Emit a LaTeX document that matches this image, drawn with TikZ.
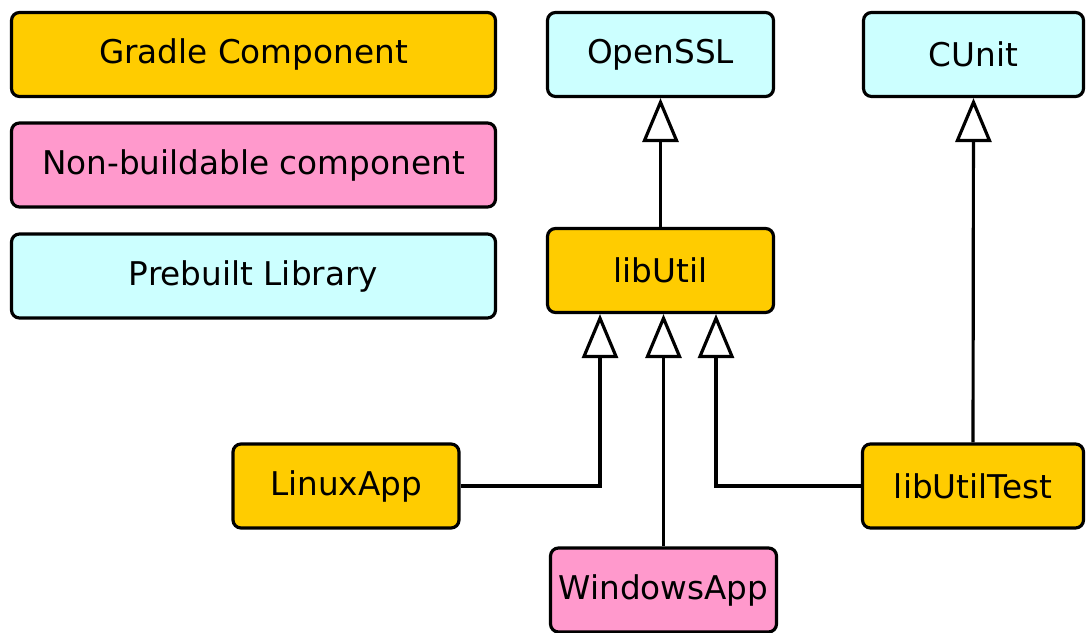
\documentclass[tikz,border=0pt]{standalone}
\usepackage{fontspec}
\setmainfont{DejaVu Sans}
\usepackage{tikz}
\usetikzlibrary{arrows.meta}

\definecolor{gradleorange}{HTML}{FFCC00}
\definecolor{nobuildpink}{HTML}{FF99CC}
\definecolor{prebuiltcyan}{HTML}{CCFFFF}

\tikzset{
  comp/.style={draw, line width=0.9pt, rounded corners=0.08cm, inner sep=0pt,
    minimum width=2.26cm, minimum height=0.84cm, font=\fontsize{9.3}{11}\selectfont},
  gradle/.style={comp, fill=gradleorange},
  nobuild/.style={comp, fill=nobuildpink},
  prebuilt/.style={comp, fill=prebuiltcyan},
  legend/.style={minimum width=4.84cm},
  inherit/.style={line width=0.9pt, -{Triangle[open, width=0.36cm, length=0.44cm]}}
}

\begin{document}
\begin{tikzpicture}[y=-1cm]
\useasboundingbox (0,0) rectangle (10.86,6.33);

% legend
\node[gradle, legend] (legGradle) at (2.535,0.545) {Gradle Component};
\node[nobuild, legend] (legNobuild) at (2.535,1.65) {Non-buildable component};
\node[prebuilt, legend] (legPrebuilt) at (2.535,2.76) {Prebuilt Library};

% components
\node[prebuilt] (openssl) at (6.605,0.545) {OpenSSL};
\node[prebuilt, minimum width=2.2cm] (cunit) at (9.735,0.545) {CUnit};
\node[gradle] (libutil) at (6.605,2.705) {libUtil};
\node[gradle] (linuxapp) at (3.46,4.86) {LinuxApp};
\node[gradle, minimum width=2.21cm] (libutiltest) at (9.73,4.86) {libUtilTest};
\node[nobuild] (windowsapp) at (6.635,5.90) {WindowsApp};

% dependencies
\draw[inherit] (libutil.north) -- (openssl.south);
\draw[inherit] (libutiltest.north) -- (cunit.south);
\draw[inherit] (linuxapp.east) -| ([xshift=-0.605cm]libutil.south);
\draw[inherit] (windowsapp.north) -- (windowsapp.north |- libutil.south);
\draw[inherit] (libutiltest.west) -| ([xshift=0.555cm]libutil.south);
\end{tikzpicture}
\end{document}
